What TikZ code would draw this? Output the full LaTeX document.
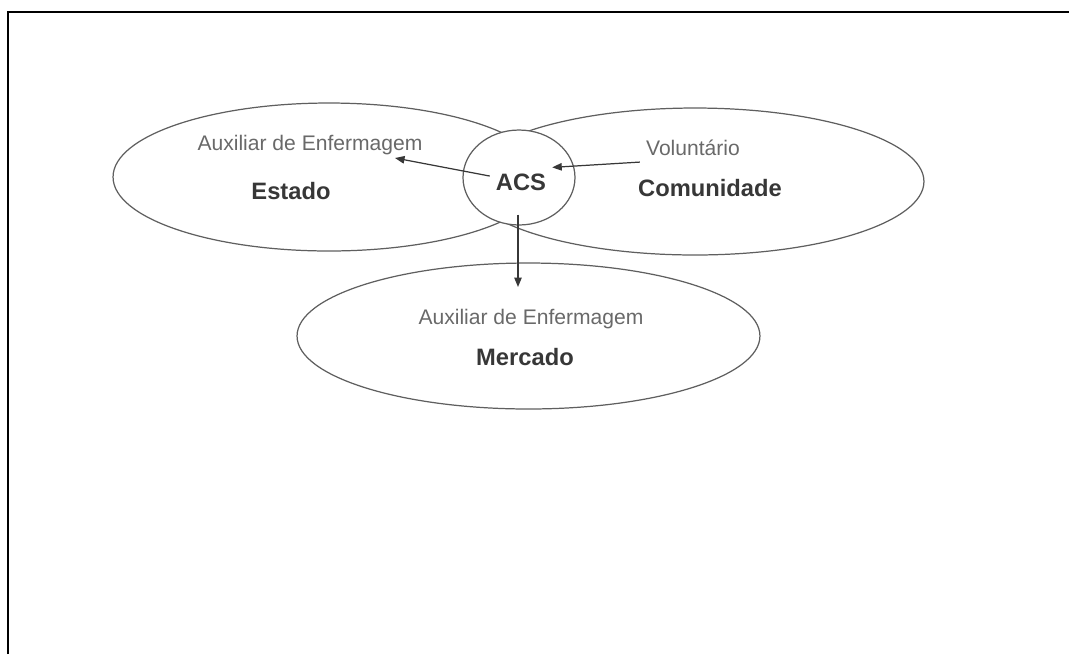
\documentclass[tikz,border=0pt]{standalone}
\usepackage{fontspec}
\setmainfont{Liberation Sans}
\usetikzlibrary{shapes.geometric,arrows.meta}
\definecolor{ringgray}{RGB}{95,95,95}
\definecolor{softgray}{RGB}{105,105,105}
\definecolor{darkgray}{RGB}{55,55,55}

\begin{document}
\begin{tikzpicture}[x=0.02cm, y=-0.02cm, >={Triangle[length=1.9mm,width=1.5mm]}]
    \tikzstyle{ring} = [ellipse, draw=ringgray, line width=0.7pt, inner sep=0pt]
    \tikzstyle{minor} = [text=softgray, font=\fontsize{12}{14}\selectfont]
    \tikzstyle{major} = [text=darkgray, font=\fontsize{13.5}{15}\selectfont\bfseries]
    \tikzstyle{link} = [->, draw=darkgray, line width=0.7pt]

    \useasboundingbox (0,0) rectangle (1069,654);
    \draw[line width=1.1pt] (8,654) -- (8,12) -- (1069,12);

    % Sets
    \node[ring, minimum width=8.64cm, minimum height=2.96cm] (estado) at (329,177) {};
    \node[ring, minimum width=9.16cm, minimum height=2.94cm] (comun) at (695,181.5) {};
    \node[ring, minimum width=9.26cm, minimum height=2.92cm] (merc) at (528.5,336) {};
    \node[ring, fill=white, minimum width=2.24cm, minimum height=1.9cm] (nucleo) at (519,177.5) {};

    % Labels
    \node[minor] (aux1) at (310,145) {Auxiliar de Enfermagem};
    \node[major] (tEstado) at (291,191) {Estado};
    \node[major] (acs) at (521,182) {ACS};
    \node[minor] (volunt) at (693,148) {Voluntário};
    \node[major] (tComun) at (710,188) {Comunidade};
    \node[minor] (aux2) at (531,319) {Auxiliar de Enfermagem};
    \node[major] (tMerc) at (525,357) {Mercado};

    % Connections
    \coordinate (tipE) at (395,158);
    \coordinate (tipM) at (518,287);
    \draw[link] (acs) -- (tipE);
    \draw[link] (volunt.south west) -- (acs.north east);
    \draw[link, shorten <=0.36cm] (acs.south -| tipM) -- (tipM);
\end{tikzpicture}
\end{document}
